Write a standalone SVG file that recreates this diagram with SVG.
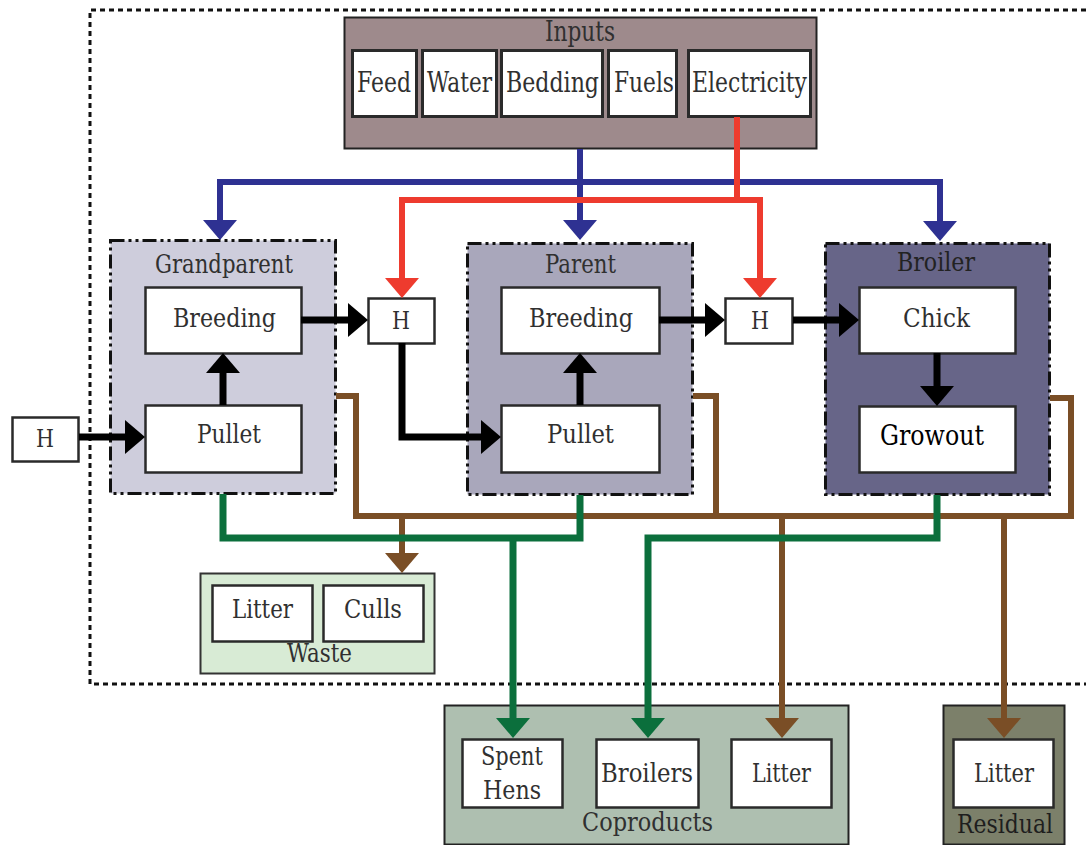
<svg xmlns="http://www.w3.org/2000/svg" width="1086" height="845" viewBox="0 0 1086 845">
<style>
text{font-family:'DejaVu Serif','Liberation Serif',serif;font-size:25.5px;fill:#303030;text-anchor:middle}
.hh{font-size:23.5px}
.in{font-size:27px}
.wb{fill:#fff;stroke:#2a2a2a;stroke-width:2.5}
.grp{stroke:#111;stroke-width:3;stroke-dasharray:14 4 3 4 3 4}
.ln{fill:none;stroke-linejoin:miter;stroke-linecap:butt}
.k{stroke:#000;stroke-width:7}
.b{stroke:#2e3192;stroke-width:6}
.r{stroke:#ee3b2e;stroke-width:6}
.g{stroke:#0b6f3c;stroke-width:7}
.br{stroke:#7a4e26;stroke-width:6}
</style>
<defs>
<marker id="ak" viewBox="0 0 20 34" refX="2" refY="17" markerWidth="20" markerHeight="34" markerUnits="userSpaceOnUse" orient="auto"><path d="M0,0 L20,17 L0,34 z" fill="#000"/></marker>
<marker id="ab" viewBox="0 0 20 34" refX="2" refY="17" markerWidth="20" markerHeight="34" markerUnits="userSpaceOnUse" orient="auto"><path d="M0,0 L20,17 L0,34 z" fill="#2e3192"/></marker>
<marker id="ar" viewBox="0 0 20 34" refX="2" refY="17" markerWidth="20" markerHeight="34" markerUnits="userSpaceOnUse" orient="auto"><path d="M0,0 L20,17 L0,34 z" fill="#ee3b2e"/></marker>
<marker id="ag" viewBox="0 0 20 34" refX="2" refY="17" markerWidth="20" markerHeight="34" markerUnits="userSpaceOnUse" orient="auto"><path d="M0,0 L20,17 L0,34 z" fill="#0b6f3c"/></marker>
<marker id="abr" viewBox="0 0 20 34" refX="2" refY="17" markerWidth="20" markerHeight="34" markerUnits="userSpaceOnUse" orient="auto"><path d="M0,0 L20,17 L0,34 z" fill="#7a4e26"/></marker>
</defs>
<rect width="1086" height="845" fill="#fff"/>
<path id="boundary" d="M1086,10 H90 V684 H1086" fill="none" stroke="#111" stroke-width="3" stroke-dasharray="5 4"/>

<g id="inputs">
<rect x="344.5" y="17.5" width="472" height="131" fill="#9e8a8c" stroke="#222" stroke-width="2"/>
<text class="in" x="580" y="41" textLength="70" lengthAdjust="spacingAndGlyphs">Inputs</text>
<rect class="wb" x="352.5" y="50.5" width="64" height="66" style="stroke-width:3"/><text class="in" x="384" y="92" textLength="54" lengthAdjust="spacingAndGlyphs">Feed</text>
<rect class="wb" x="422.5" y="50.5" width="74" height="66" style="stroke-width:3"/><text class="in" x="459.5" y="92" textLength="65" lengthAdjust="spacingAndGlyphs">Water</text>
<rect class="wb" x="501.5" y="50.5" width="101" height="66" style="stroke-width:3"/><text class="in" x="552.5" y="92" textLength="93" lengthAdjust="spacingAndGlyphs">Bedding</text>
<rect class="wb" x="608.5" y="50.5" width="68" height="66" style="stroke-width:3"/><text class="in" x="644" y="92" textLength="60" lengthAdjust="spacingAndGlyphs">Fuels</text>
<rect class="wb" x="688.5" y="50.5" width="122" height="66" style="stroke-width:3"/><text class="in" x="749.5" y="92" textLength="115" lengthAdjust="spacingAndGlyphs">Electricity</text>
</g>

<g id="grandparent">
<rect class="grp" x="110.5" y="240.5" width="225" height="253" fill="#cecddc"/>
<text x="224" y="273" textLength="138" lengthAdjust="spacingAndGlyphs">Grandparent</text>
<rect class="wb" x="145.5" y="287.5" width="156" height="66"/><text x="224.5" y="327" textLength="103" lengthAdjust="spacingAndGlyphs">Breeding</text>
<rect class="wb" x="145.5" y="405.5" width="156" height="67"/><text x="229" y="443" textLength="64" lengthAdjust="spacingAndGlyphs">Pullet</text>
</g>

<g id="parent">
<rect class="grp" x="467.5" y="243.5" width="225" height="251" fill="#a9a7bb"/>
<text x="580.5" y="273" textLength="71" lengthAdjust="spacingAndGlyphs">Parent</text>
<rect class="wb" x="501.5" y="287.5" width="158" height="66"/><text x="581" y="327" textLength="104" lengthAdjust="spacingAndGlyphs">Breeding</text>
<rect class="wb" x="501.5" y="405.5" width="158" height="67"/><text x="580.5" y="443" textLength="67" lengthAdjust="spacingAndGlyphs">Pullet</text>
</g>

<g id="broiler">
<rect class="grp" x="825.5" y="243.5" width="224" height="251" fill="#676588"/>
<text x="936" y="271" style="fill:#222" textLength="78" lengthAdjust="spacingAndGlyphs">Broiler</text>
<rect class="wb" x="859.5" y="287.5" width="156" height="66"/><text x="936.5" y="327" textLength="67" lengthAdjust="spacingAndGlyphs">Chick</text>
<rect class="wb" x="859.5" y="406.5" width="156" height="66"/><text x="932" y="445" style="fill:#000;font-size:27px" textLength="104" lengthAdjust="spacingAndGlyphs">Growout</text>
</g>

<g id="h0"><rect class="wb" x="12.5" y="417.5" width="66" height="44"/><text class="hh" x="45" y="447" textLength="18" lengthAdjust="spacingAndGlyphs">H</text></g>
<g id="h1"><rect class="wb" x="368.5" y="298.5" width="66" height="45"/><text class="hh" x="401" y="329" textLength="18" lengthAdjust="spacingAndGlyphs">H</text></g>
<g id="h2"><rect class="wb" x="725.5" y="298.5" width="67" height="45"/><text class="hh" x="760" y="329" textLength="18" lengthAdjust="spacingAndGlyphs">H</text></g>

<g id="waste">
<rect x="200.5" y="573.5" width="234" height="100" fill="#d8ebd5" stroke="#333" stroke-width="2"/>
<rect class="wb" x="212.5" y="585.5" width="100" height="56"/><text x="262.5" y="618" textLength="61" lengthAdjust="spacingAndGlyphs">Litter</text>
<rect class="wb" x="323.5" y="585.5" width="100" height="56"/><text x="373" y="618" textLength="58" lengthAdjust="spacingAndGlyphs">Culls</text>
<text x="319.5" y="662" textLength="65" lengthAdjust="spacingAndGlyphs">Waste</text>
</g>

<g id="coproducts">
<rect x="444.5" y="705.5" width="404" height="139" fill="#aebfb0" stroke="#222" stroke-width="2"/>
<rect class="wb" x="462.5" y="739.5" width="100" height="68"/><text x="512" y="765" textLength="62" lengthAdjust="spacingAndGlyphs">Spent</text><text x="512" y="799" textLength="58" lengthAdjust="spacingAndGlyphs">Hens</text>
<rect class="wb" x="596.5" y="739.5" width="102" height="68"/><text x="647" y="782" textLength="92" lengthAdjust="spacingAndGlyphs">Broilers</text>
<rect class="wb" x="731.5" y="739.5" width="100" height="68"/><text x="781.5" y="782" textLength="59" lengthAdjust="spacingAndGlyphs">Litter</text>
<text x="647.5" y="831" textLength="131" lengthAdjust="spacingAndGlyphs">Coproducts</text>
</g>

<g id="residual">
<rect x="943.5" y="705.5" width="121" height="139" fill="#7c806a" stroke="#222" stroke-width="2"/>
<rect class="wb" x="953.5" y="739.5" width="100" height="68"/><text x="1004" y="782" textLength="60" lengthAdjust="spacingAndGlyphs">Litter</text>
<text x="1005" y="833" style="fill:#1e1e1e" textLength="96" lengthAdjust="spacingAndGlyphs">Residual</text>
</g>

<g id="connectors">
<path class="ln b" d="M580,149 V222" marker-end="url(#ab)"/>
<path class="ln b" d="M580,182 H220 V222" marker-end="url(#ab)"/>
<path class="ln b" d="M580,182 H940 V223" marker-end="url(#ab)"/>
<path class="ln r" d="M737,117 V200 H402 V280" marker-end="url(#ar)"/>
<path class="ln r" d="M737,200 H760 V280" marker-end="url(#ar)"/>
<path class="ln k" d="M79,437 H127" marker-end="url(#ak)"/>
<path class="ln k" d="M301,320 H350" marker-end="url(#ak)"/>
<path class="ln k" d="M223,405 V371" marker-end="url(#ak)"/>
<path class="ln k" d="M402,343 V437 H483" marker-end="url(#ak)"/>
<path class="ln k" d="M580,405 V371" marker-end="url(#ak)"/>
<path class="ln k" d="M659,320 H707" marker-end="url(#ak)"/>
<path class="ln k" d="M793,320 H841" marker-end="url(#ak)"/>
<path class="ln k" d="M937,353 V388" marker-end="url(#ak)"/>
<path class="ln br" d="M336,396 H356 V516 H1071 V398 H1050"/>
<path class="ln br" d="M693,396 H716 V516"/>
<path class="ln br" d="M402,516 V555" marker-end="url(#abr)"/>
<path class="ln br" d="M782,516 V720" marker-end="url(#abr)"/>
<path class="ln br" d="M1004,516 V720" marker-end="url(#abr)"/>
<path class="ln g" d="M223,494 V538 H580 V495"/>
<path class="ln g" d="M513,538 V720" marker-end="url(#ag)"/>
<path class="ln g" d="M937,495 V538 H648 V720" marker-end="url(#ag)"/>
</g>
</svg>
